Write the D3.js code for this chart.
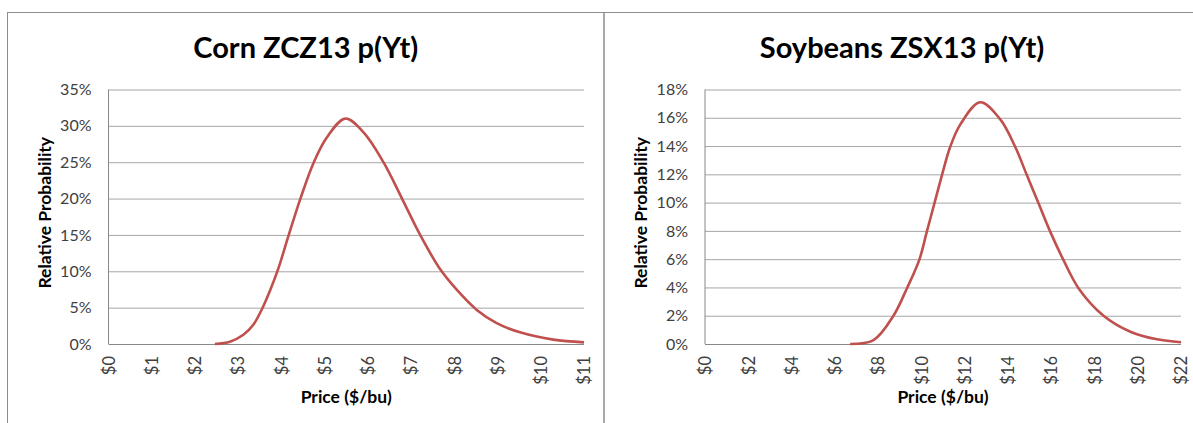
<!DOCTYPE html>
<html>
<head>
<meta charset="utf-8">
<script src="https://cdn.jsdelivr.net/npm/d3@7"></script>
<style>
	body { margin: 0; background: #fff; }
	text { font-family: Lato, "Open Sans", sans-serif; }
</style>
</head>
<body>
<svg id="chart" width="1193" height="423"></svg>
<script>
// corn curve ($/bu, % probability)
const cornPrice = [2.46, 2.81, 3.12, 3.35, 3.54, 3.74, 3.93, 4.17, 4.44, 4.75, 5.05, 5.48, 5.9, 6.36, 6.79, 7.21, 7.67, 8.05, 8.52, 8.98, 9.52, 10.29, 11];
const cornProb = [0, 0.32, 1.27, 2.64, 4.68, 7.4, 10.4, 15.0, 20.0, 25.0, 28.4, 31.0, 29.1, 25.0, 20.0, 15.0, 10.3, 7.5, 4.68, 2.86, 1.6, 0.6, 0.23];

// soybeans curve
const soyPrice = [6.71, 7.79, 8.71, 9.33, 9.9, 10.25, 10.6, 10.95, 11.33, 11.79, 12.72, 13.64, 14.34, 14.88, 15.42, 15.96, 16.57, 17.27, 18.42, 19.66, 20.89, 22];
const soyProb = [0, 0.28, 2.0, 3.93, 5.93, 7.93, 9.93, 11.93, 13.93, 15.5, 17.1, 15.9, 13.93, 11.93, 9.93, 7.93, 5.93, 3.93, 2.0, 0.87, 0.33, 0.12];

// axis ticks
const cornXTicks = [0, 1, 2, 3, 4, 5, 6, 7, 8, 9, 10, 11];
const cornYTicks = [0, 5, 10, 15, 20, 25, 30, 35];
const soyXTicks = [0, 2, 4, 6, 8, 10, 12, 14, 16, 18, 20, 22];
const soyYTicks = [0, 2, 4, 6, 8, 10, 12, 14, 16, 18];

const titles = ["Corn ZCZ13 p(Yt)", "Soybeans ZSX13 p(Yt)"];

const svg = d3.select("#chart");

function drawPanel(opt) {
	//outer frame of the chart object
	svg.append("rect")
		.attr("x", opt.frameX)
		.attr("y", 12.5)
		.attr("width", opt.frameW)
		.attr("height", 440)
		.attr("fill", "none")
		.attr("stroke", "#8c8c8c")
		.attr("stroke-width", 1);

	svg.append("text")
		.attr("x", opt.frameX + opt.frameW / 2)
		.attr("y", 58)
		.attr("text-anchor", "middle")
		.style("font-size", "29px")
		.style("font-weight", "bold")
		.attr("fill", "#000")
		.text(opt.title);

	const left = opt.plotX, right = opt.plotX2, top = 89.5, bottom = 344;

	const x = d3.scaleLinear().domain([0, d3.max(opt.xTicks)]).range([left, right]);
	const y = d3.scaleLinear().domain([0, d3.max(opt.yTicks)]).range([bottom, top]);

	//y axis with gridlines
	const gy = svg.append("g")
		.attr("transform", `translate(${left},0)`)
		.call(d3.axisLeft(y).tickValues(opt.yTicks).tickSize(-(right - left)).tickPadding(17).tickFormat((d) => d + "%"));
	gy.select(".domain").remove();
	gy.selectAll(".tick line").attr("stroke", (d) => (d == 0 ? "#888" : "#a6a6a6"));
	gy.selectAll(".tick text").style("font-size", "16px").attr("fill", "#404040");

	//vertical axis line
	svg.append("line")
		.attr("x1", left).attr("x2", left)
		.attr("y1", top).attr("y2", bottom)
		.attr("stroke", "#888");

	//x axis, labels rotated
	const gx = svg.append("g")
		.attr("transform", `translate(0,${bottom})`)
		.call(d3.axisBottom(x).tickValues(opt.xTicks).tickSize(0).tickFormat((d) => "$" + d));
	gx.select(".domain").remove();
	gx.selectAll(".tick text")
		.style("font-size", "16.5px")
		.attr("fill", "#404040")
		.attr("text-anchor", "end")
		.attr("transform", "rotate(-90)")
		.attr("x", -12)
		.attr("y", 0)
		.attr("dy", "0.35em");

	svg.append("text")
		.attr("x", (left + right) / 2)
		.attr("y", 403)
		.attr("text-anchor", "middle")
		.style("font-size", "17.5px")
		.style("font-weight", "bold")
		.attr("fill", "#000")
		.text("Price ($/bu)");

	svg.append("text")
		.attr("transform", `translate(${left - 58},${(top + bottom) / 2 - 4}) rotate(-90)`)
		.attr("text-anchor", "middle")
		.style("font-size", "17.5px")
		.style("font-weight", "bold")
		.attr("fill", "#000")
		.text("Relative Probability");

	const pts = opt.xs.map((d, i) => [d, opt.ys[i]]);
	svg.append("path")
		.datum(pts)
		.attr("fill", "none")
		.attr("stroke", "#c0504d")
		.attr("stroke-width", 2.6)
		.attr("stroke-linejoin", "round")
		.attr("d", d3.line().x((d) => x(d[0])).y((d) => y(d[1])).curve(d3.curveCatmullRom.alpha(0.5)));
}

drawPanel({
	title: titles[0], frameX: 7.5, frameW: 596.5,
	plotX: 108.5, plotX2: 584,
	xTicks: cornXTicks, yTicks: cornYTicks,
	xs: cornPrice, ys: cornProb,
});
drawPanel({
	title: titles[1], frameX: 604, frameW: 596,
	plotX: 705, plotX2: 1181,
	xTicks: soyXTicks, yTicks: soyYTicks,
	xs: soyPrice, ys: soyProb,
});
</script>
</body>
</html>
